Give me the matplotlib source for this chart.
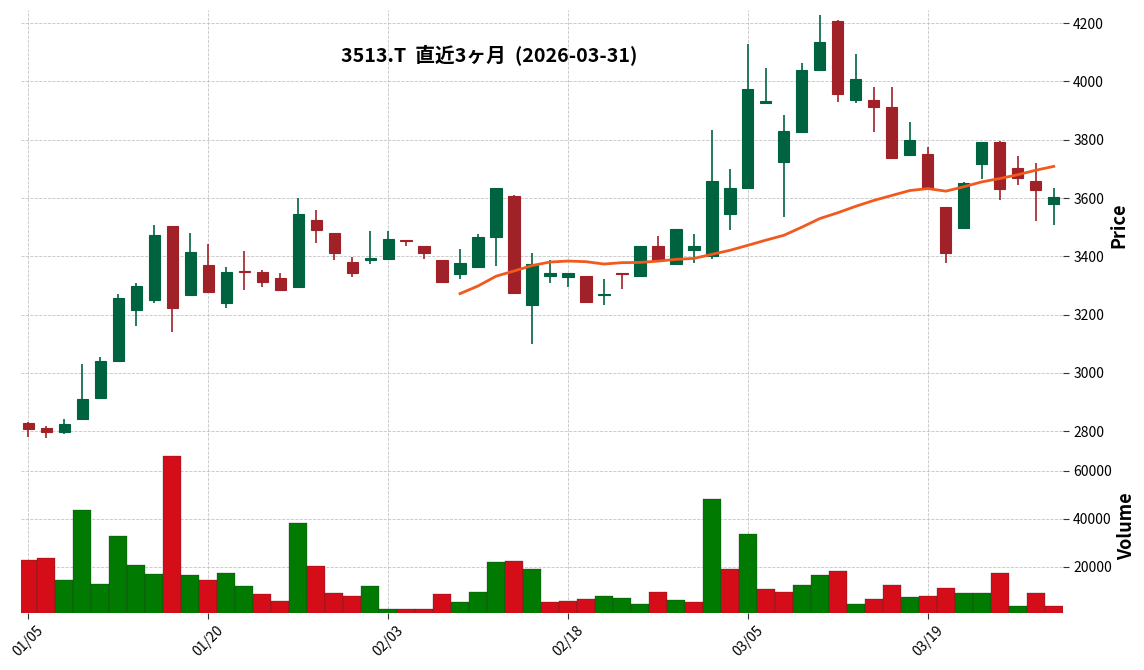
import matplotlib.pyplot as plt
import numpy as np
import pandas as pd

plt.rcParams['font.family'] = ['Noto Sans CJK JP', 'DejaVu Sans']

# trading days (2026)
dates = ['01/05', '01/06', '01/07', '01/08', '01/09', '01/13', '01/14', '01/15', '01/16', '01/19',
         '01/20', '01/21', '01/22', '01/23', '01/26', '01/27', '01/28', '01/29', '01/30', '02/02',
         '02/03', '02/04', '02/05', '02/06', '02/09', '02/10', '02/12', '02/13', '02/16', '02/17',
         '02/18', '02/19', '02/20', '02/24', '02/25', '02/26', '02/27', '03/02', '03/03', '03/04',
         '03/05', '03/06', '03/09', '03/10', '03/11', '03/12', '03/13', '03/16', '03/17', '03/18',
         '03/19', '03/23', '03/24', '03/25', '03/26', '03/27', '03/30', '03/31']

opens = [2827, 2810, 2797, 2841, 2913, 3040, 3215, 3249, 3503, 3266,
         3369, 3239, 3348, 3345, 3325, 3295, 3523, 3479, 3379, 3389,
         3391, 3456, 3434, 3386, 3339, 3363, 3465, 3606, 3234, 3334,
         3330, 3331, 3267, 3342, 3331, 3434, 3374, 3423, 3401, 3545,
         3634, 3926, 3722, 3825, 4038, 4206, 3938, 3938, 3914, 3747,
         3750, 3568, 3497, 3717, 3791, 3702, 3657, 3580]
highs = [2832, 2819, 2840, 3032, 3053, 3269, 3310, 3509, 3503, 3481,
         3443, 3365, 3419, 3354, 3343, 3601, 3560, 3479, 3399, 3488,
         3488, 3456, 3434, 3386, 3426, 3478, 3633, 3611, 3413, 3389,
         3341, 3331, 3323, 3342, 3434, 3471, 3493, 3478, 3834, 3700,
         4127, 4047, 3886, 4064, 4229, 4211, 4095, 3981, 3981, 3862,
         3774, 3568, 3656, 3791, 3797, 3745, 3721, 3634]
lows = [2781, 2778, 2790, 2841, 2913, 3040, 3161, 3240, 3141, 3266,
        3277, 3224, 3286, 3295, 3285, 3295, 3447, 3389, 3329, 3375,
        3391, 3434, 3392, 3309, 3323, 3363, 3366, 3274, 3098, 3310,
        3296, 3240, 3234, 3289, 3329, 3389, 3372, 3378, 3392, 3491,
        3634, 3926, 3536, 3825, 4038, 3930, 3927, 3827, 3737, 3747,
        3634, 3378, 3497, 3666, 3594, 3646, 3520, 3509]
closes = [2807, 2797, 2824, 2910, 3040, 3256, 3297, 3472, 3222, 3414,
          3277, 3345, 3347, 3312, 3285, 3544, 3490, 3411, 3343, 3394,
          3458, 3454, 3411, 3311, 3376, 3465, 3633, 3274, 3373, 3344,
          3341, 3242, 3271, 3340, 3434, 3389, 3493, 3434, 3657, 3633,
          3973, 3932, 3829, 4041, 4134, 3956, 4007, 3912, 3737, 3798,
          3634, 3411, 3650, 3791, 3631, 3670, 3627, 3602]
volumes = [22600, 23460, 14300, 43460, 12630, 32630, 20540, 16800, 66090, 16380,
           14300, 17210, 11790, 8460, 5540, 38040, 20130, 8880, 7630, 11790,
           2200, 2200, 2200, 8460, 5130, 9290, 21790, 22210, 18880, 5130,
           5540, 6380, 7630, 6790, 4290, 9290, 5960, 5130, 48040, 18880,
           33460, 10540, 9290, 12210, 16380, 18040, 4290, 6380, 12210, 7210,
           7630, 10960, 8880, 8880, 17210, 3460, 8880, 3460]

df = pd.DataFrame({'Open': opens, 'High': highs, 'Low': lows, 'Close': closes, 'Volume': volumes})
df['MA25'] = df['Close'].rolling(25).mean()
x = np.arange(len(df))

up_col, down_col = '#006340', '#A02128'
vup_col, vdown_col = '#007A00', '#D50D18'

candle_cols = np.where(df['Close'] >= df['Open'], up_col, down_col)
prev_close = df['Close'].shift(1).fillna(df['Open'])
vol_cols = np.where(df['Close'] > prev_close, vup_col, vdown_col)

fig = plt.figure(figsize=(11.44, 6.70), dpi=100)
ax = fig.add_axes([0.0184, 0.343, 0.9106, 0.642])
axv = fig.add_axes([0.0184, 0.085, 0.9106, 0.258], sharex=ax)

# candles
ax.vlines(x, df['Low'], df['High'], colors=candle_cols, linewidth=1.2, zorder=2)
body_bottom = np.minimum(df['Open'], df['Close'])
body_height = np.abs(df['Close'] - df['Open'])
ax.bar(x, body_height, bottom=body_bottom, width=0.62, color=candle_cols,
       edgecolor=candle_cols, linewidth=0.8, zorder=3)
ax.plot(x, df['MA25'], color='#F05A1E', linewidth=2, zorder=4)

# volume
axv.bar(x, df['Volume'], width=1.0, color=vol_cols, edgecolor='#2a2a2a', linewidth=0.2, zorder=2)

for a in (ax, axv):
    for s in a.spines.values():
        s.set_visible(False)
    a.grid(True, linestyle='--', color='#c4c4c4', linewidth=0.6, zorder=0)
    a.set_axisbelow(True)
    a.yaxis.tick_right()
    a.yaxis.set_label_position('right')
    a.tick_params(axis='y', labelsize=10, length=4, color='#333333')

ax.set_xlim(-0.4, len(df) - 0.5)
ax.set_ylim(2769, 4245)
ax.set_yticks(np.arange(2800, 4201, 200))
ax.set_ylabel('Price', fontsize=13, fontweight='bold')
ax.tick_params(axis='x', labelbottom=False, length=0)

axv.set_ylim(0.3 * min(volumes), 1.1 * max(volumes))
axv.set_yticks([20000, 40000, 60000])
axv.set_ylabel('Volume', fontsize=13, fontweight='bold')

tick_idx = list(range(0, len(df), 10))
axv.set_xticks(tick_idx)
axv.set_xticklabels([dates[i] for i in tick_idx], rotation=45, ha='center', fontsize=10)
axv.tick_params(axis='x', length=4, color='#333333')

fig.text(0.428, 0.918, '3513.T  直近3ヶ月  (2026-03-31)', ha='center', va='center',
         fontsize=14.2, fontweight='bold')

fig.savefig('out.png', dpi=100)
